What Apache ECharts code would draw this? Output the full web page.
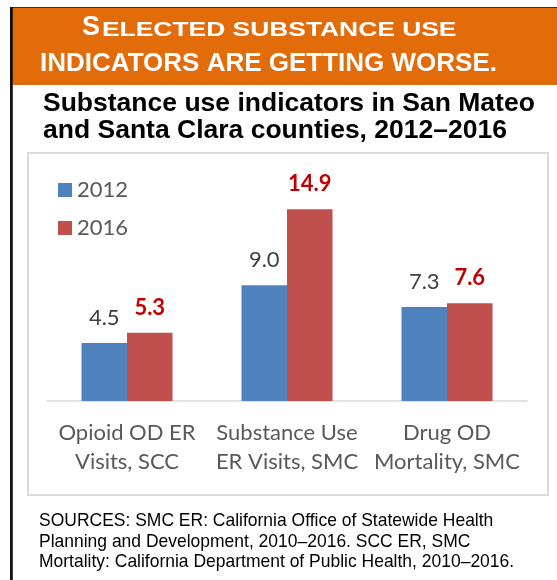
<!DOCTYPE html>
<html><head><meta charset="utf-8">
<script src="https://cdn.jsdelivr.net/npm/echarts@6/dist/echarts.min.js"></script>
<style>html,body{margin:0;padding:0;background:#fff}#c{width:557px;height:580px}</style>
</head><body><div id="c"></div>
<script>
const categories = ['Opioid OD ER\nVisits, SCC', 'Substance Use\nER Visits, SMC', 'Drug OD\nMortality, SMC'];
const seriesNames = ['2012', '2016'];
const values2012 = [4.5, 9.0, 7.3];
const values2016 = [5.3, 14.9, 7.6];
const headerCap = 'S';
const headerRest = 'ELECTED SUBSTANCE USE';
const headerLine2 = 'INDICATORS ARE GETTING WORSE.';
const titleLines = ['Substance use indicators in San Mateo', 'and Santa Clara counties, 2012–2016'];
const sourceLines = [
  'SOURCES: SMC ER: California Office of Statewide Health',
  'Planning and Development, 2010–2016. SCC ER, SMC',
  'Mortality: California Department of Public Health, 2010–2016.'
];

const chart = echarts.init(document.getElementById('c'), null, {renderer: 'canvas'});
const SANS = '"Liberation Sans", Arial, sans-serif';
const CAL = 'Lato, "Open Sans", sans-serif';

const graphics = [
  {type: 'rect', shape: {x: 10, y: 7, width: 547, height: 1.2}, style: {fill: '#333'}},
  {type: 'rect', shape: {x: 12, y: 8, width: 545, height: 77}, style: {fill: '#E36C0A'}},
  {type: 'rect', shape: {x: 10, y: 7, width: 2.8, height: 573}, style: {fill: '#111'}},
  {type: 'rect', shape: {x: 28, y: 153, width: 520, height: 342}, style: {fill: 'none', stroke: '#D9D9D9', lineWidth: 2}},
  {type: 'text', x: 82, y: 27.6, style: {text: headerCap, fontFamily: SANS, fontWeight: 'bold', fontSize: 27, fill: '#fff', textAlign: 'left', textVerticalAlign: 'middle'}},
  {type: 'text', x: 102, y: 30.1, scaleX: 1.32, originX: 0, originY: 0,
    style: {text: headerRest, fontFamily: SANS, fontWeight: 'bold', fontSize: 20, fill: '#fff', textAlign: 'left', textVerticalAlign: 'middle'}},
  {type: 'text', x: 268.5, y: 64, style: {text: headerLine2, fontFamily: SANS, fontWeight: 'bold', fontSize: 26, fill: '#fff', textAlign: 'center', textVerticalAlign: 'middle'}},
  {type: 'text', x: 43, y: 104, style: {text: titleLines[0], fontFamily: SANS, fontWeight: 'bold', fontSize: 26.5, fill: '#000', textAlign: 'left', textVerticalAlign: 'middle'}},
  {type: 'text', x: 43, y: 131, style: {text: titleLines[1], fontFamily: SANS, fontWeight: 'bold', fontSize: 26.5, fill: '#000', textAlign: 'left', textVerticalAlign: 'middle'}}
];
const srcMid = [521, 541.5, 562];
sourceLines.forEach((t, i) => {
  graphics.push({type: 'text', x: 39, y: srcMid[i], scaleX: 0.92, originX: 0, originY: 0,
    style: {text: t, fontFamily: SANS, fontSize: 19, fill: '#000', textAlign: 'left', textVerticalAlign: 'middle'}});
});

const labelFmt = p => Number(p.value).toFixed(1);

chart.setOption({
  animation: false,
  color: ['#4F81BD', '#C0504D'],
  graphic: graphics,
  legend: {
    data: seriesNames, orient: 'vertical', left: 53, top: 173,
    itemWidth: 14, itemHeight: 14, itemGap: 14, icon: 'rect',
    textStyle: {fontFamily: CAL, fontSize: 22, color: '#595959', lineHeight: 24}
  },
  grid: {left: 47, top: 195, width: 480, height: 206, containLabel: false},
  xAxis: {
    type: 'category', data: categories,
    axisLine: {lineStyle: {color: '#D9D9D9', width: 1.5}},
    axisTick: {show: false},
    axisLabel: {interval: 0, fontFamily: CAL, fontSize: 22, color: '#595959', lineHeight: 29, margin: 17}
  },
  yAxis: {type: 'value', min: 0, max: 16, show: false, splitLine: {show: false}},
  series: [
    {name: seriesNames[0], type: 'bar', data: values2012, barWidth: 45.5, barGap: '0%',
      label: {show: true, position: 'top', distance: 14, formatter: labelFmt, fontFamily: CAL, fontSize: 22, color: '#404040'}},
    {name: seriesNames[1], type: 'bar', data: values2016, barWidth: 45.5, barGap: '0%',
      label: {show: true, position: 'top', distance: 14, formatter: labelFmt, fontFamily: CAL, fontSize: 22, fontWeight: 'bold', color: '#C00000'}}
  ]
});
</script></body></html>
